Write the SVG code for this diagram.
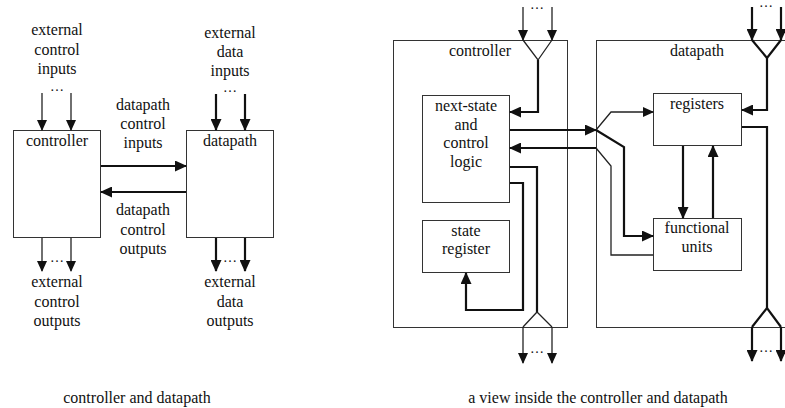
<svg xmlns="http://www.w3.org/2000/svg" width="785" height="408" viewBox="0 0 785 408" font-family="Liberation Serif, Times New Roman, serif">
  <style>
    text { font-family: 'Liberation Serif', 'Times New Roman', Times, serif; font-size: 16px; fill: #111; text-anchor: middle; }
    .dots { font-size: 14px; }
    .box { fill: #fff; stroke: #333; stroke-width: 1; }
    .thin { fill: none; stroke: #222; stroke-width: 1.3; }
    .thick { fill: none; stroke: #111; stroke-width: 2.2; }
    .arr { marker-end: url(#ah); }
    .arr-s { marker-end: url(#ahs); }
  </style>
  <defs>
    <marker id="ah" viewBox="0 0 12 11" refX="11" refY="5.5" markerWidth="12" markerHeight="11" markerUnits="userSpaceOnUse" orient="auto">
      <path d="M0,0 L12,5.5 L0,11 z" fill="#111"/>
    </marker>
    <marker id="ahs" viewBox="0 0 11 10" refX="10" refY="5" markerWidth="11" markerHeight="10" markerUnits="userSpaceOnUse" orient="auto">
      <path d="M0,0 L11,5 L0,10 z" fill="#111"/>
    </marker>
  </defs>

  <!-- ===== Left: controller and datapath ===== -->
  <g id="left-controller">
    <rect class="box" x="13.5" y="130.5" width="87" height="107"/>
    <text x="57" y="146">controller</text>
  </g>
  <g id="left-datapath">
    <rect class="box" x="186.5" y="130.5" width="87" height="107"/>
    <text x="230" y="146">datapath</text>
  </g>

  <g id="left-labels">
    <text x="57" y="35">external</text>
    <text x="57" y="54.5">control</text>
    <text x="57" y="74">inputs</text>
    <text class="dots" x="57" y="91">…</text>

    <text x="230" y="38">external</text>
    <text x="230" y="57">data</text>
    <text x="230" y="76">inputs</text>
    <text class="dots" x="230" y="92">…</text>

    <text x="143" y="110">datapath</text>
    <text x="143" y="129">control</text>
    <text x="143" y="148">inputs</text>

    <text x="143" y="215">datapath</text>
    <text x="143" y="234.5">control</text>
    <text x="143" y="254">outputs</text>

    <text class="dots" x="57" y="262">…</text>
    <text x="57" y="287">external</text>
    <text x="57" y="306.5">control</text>
    <text x="57" y="326">outputs</text>

    <text class="dots" x="230" y="262">…</text>
    <text x="230" y="287">external</text>
    <text x="230" y="306.5">data</text>
    <text x="230" y="326">outputs</text>

    <text x="137" y="403">controller and datapath</text>
  </g>

  <g id="left-connectors">
    <path class="thin arr-s" d="M42,93 V130"/>
    <path class="thin arr-s" d="M71,93 V130"/>
    <path class="thick arr" d="M216,94 V130"/>
    <path class="thick arr" d="M245,94 V130"/>
    <path class="thick arr" d="M101,166 H186"/>
    <path class="thick arr" d="M186,192 H101"/>
    <path class="thin arr-s" d="M42,238 V271"/>
    <path class="thin arr-s" d="M71,238 V271"/>
    <path class="thick arr" d="M216,238 V271"/>
    <path class="thick arr" d="M245,238 V271"/>
  </g>

  <!-- ===== Right: a view inside the controller and datapath ===== -->
  <g id="controller">
    <rect class="box" x="393.5" y="40.5" width="174" height="287"/>
    <text x="480" y="56">controller</text>
  </g>
  <g id="datapath">
    <rect class="box" x="596.5" y="40.5" width="200" height="287"/>
    <text x="697" y="56">datapath</text>
  </g>
  <g id="next-state-logic">
    <rect class="box" x="422.5" y="95.5" width="87" height="107"/>
    <text x="466" y="111">next-state</text>
    <text x="466" y="129.5">and</text>
    <text x="466" y="148">control</text>
    <text x="466" y="166.5">logic</text>
  </g>
  <g id="state-register">
    <rect class="box" x="422.5" y="220.5" width="87" height="52"/>
    <text x="466" y="236">state</text>
    <text x="466" y="254">register</text>
  </g>
  <g id="registers">
    <rect class="box" x="653.5" y="93.5" width="88" height="52"/>
    <text x="697" y="109">registers</text>
  </g>
  <g id="functional-units">
    <rect class="box" x="653.5" y="218.5" width="88" height="52"/>
    <text x="697" y="233">functional</text>
    <text x="697" y="252">units</text>
  </g>

  <g id="right-labels">
    <text class="dots" x="537" y="9">…</text>
    <text class="dots" x="537" y="353">…</text>
    <text class="dots" x="766" y="7">…</text>
    <text class="dots" x="766" y="352">…</text>
    <text x="598" y="403">a view inside the controller and datapath</text>
  </g>

  <g id="connectors">
    <!-- controller inputs through merge -->
    <path class="thin arr-s" d="M523,7 V40"/>
    <path class="thin arr-s" d="M552,7 V40"/>
    <path class="thin" d="M523,40 L538,60 L552,40"/>
    <path class="thick arr" d="M538,60 V112 H510"/>

    <!-- controller outputs through split -->
    <path class="thick" d="M510,167 H537 V312"/>
    <path class="thin" d="M523,327 L537,312 L552,327"/>
    <path class="thin arr-s" d="M523,327 V363"/>
    <path class="thin arr-s" d="M552,327 V363"/>

    <!-- state feedback -->
    <path class="thick arr" d="M510,183 H523 V310 H466 V273"/>

    <!-- control signals to datapath -->
    <path class="thick arr" d="M510,130 H596"/>
    <path class="thin arr-s" d="M596,130 L611,112 H653"/>
    <path class="thick arr" d="M596,130 L624,147 V236 H653"/>

    <!-- status signals back to controller -->
    <path class="thick arr" d="M596,148 H510"/>
    <path class="thin" d="M596,148 L611,166 V255 H653"/>

    <!-- datapath inputs through merge -->
    <path class="thick arr" d="M752,7 V40"/>
    <path class="thick arr" d="M781,7 V40"/>
    <path class="thick" d="M752,40 L767,58 L781,40"/>
    <path class="thick arr" d="M767,58 V110 H742"/>

    <!-- registers <-> functional units -->
    <path class="thick arr" d="M683,146 V218"/>
    <path class="thick arr" d="M713,218 V146"/>

    <!-- datapath outputs through split -->
    <path class="thick" d="M742,127 H767 V308"/>
    <path class="thick" d="M752,327 L767,308 L781,327"/>
    <path class="thick arr" d="M752,327 V361"/>
    <path class="thick arr" d="M781,327 V361"/>
  </g>
</svg>
